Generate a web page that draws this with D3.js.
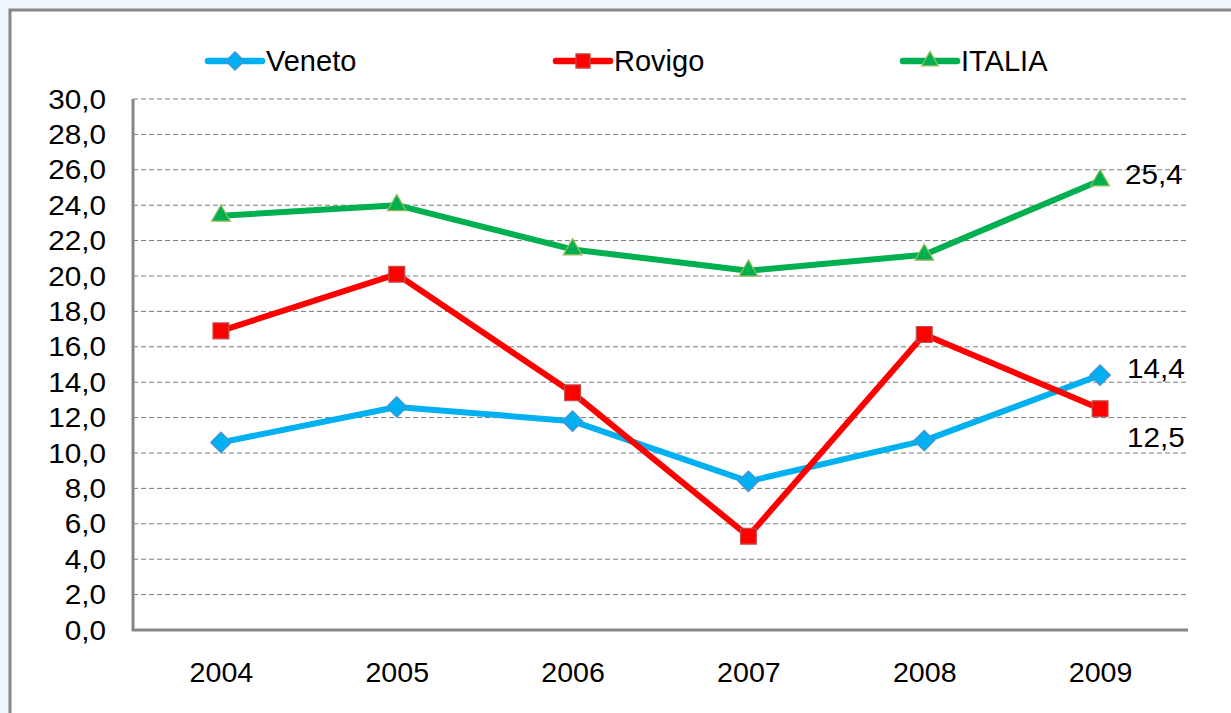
<!DOCTYPE html>
<html lang="it">
<head>
<meta charset="utf-8">
<title>Veneto Rovigo ITALIA</title>
<script src="https://d3js.org/d3.v7.min.js"></script>
<style>
  body { margin: 0; background: #eef5fc; }
  text { font-family: "Liberation Sans", Arial, sans-serif; fill: #000; }
</style>
</head>
<body>
<svg width="1231" height="713"></svg>
<script>
// data
const years  = ["2004", "2005", "2006", "2007", "2008", "2009"];
const veneto = [10.6, 12.6, 11.8, 8.4, 10.7, 14.4];
const rovigo = [16.9, 20.1, 13.4, 5.3, 16.7, 12.5];
const italia = [23.4, 24.0, 21.5, 20.3, 21.2, 25.4];
const yTicks = d3.range(0, 31, 2);

const series = [
  {name: "Veneto", values: veneto, color: "#00b0f0", stroke: "#4f8fd0", shape: d3.symbolDiamond2, size: 270, legendX: 208},
  {name: "Rovigo", values: rovigo, color: "#ff0000", stroke: "#c0504d", shape: d3.symbolSquare2, size: 320, legendX: 556},
  {name: "ITALIA", values: italia, color: "#00b050", stroke: "#9bbb59", shape: d3.symbolTriangle2, size: 250, legendX: 903}
];

const svg = d3.select("svg");
const plotL = 133, plotR = 1188, plotT = 99, plotB = 630;

// outer frame
svg.append("rect").attr("x", 10).attr("y", 10).attr("width", 1240).attr("height", 720)
  .attr("fill", "#fff").attr("stroke", "#878787").attr("stroke-width", 3);

const x = d3.scalePoint().domain(years).range([plotL, plotR]).padding(0.5);
const y = d3.scaleLinear().domain([0, 30]).range([plotB, plotT]);
const fmt = v => d3.format(".1f")(v).replace(".", ",");

// gridlines
svg.append("g").selectAll("line").data(yTicks.filter(d => d > 0)).enter().append("line")
  .attr("x1", plotL).attr("x2", plotR)
  .attr("y1", d => y(d)).attr("y2", d => y(d))
  .attr("stroke", "#7a7a7a").attr("stroke-width", 1).attr("stroke-dasharray", "5,3");

// axes (text a bit stretched, like the original)
const yAxis = svg.append("g").attr("transform", "translate(" + plotL + ",0)")
  .call(d3.axisLeft(y).tickValues(yTicks).tickFormat(fmt).tickSize(0));
yAxis.select(".domain").remove();
yAxis.selectAll("text").style("font-size", "27px").attr("dy", "0.34em")
  .attr("x", -27 / 1.1).attr("transform", "scale(1.1,1)");

const xAxis = svg.append("g").attr("transform", "translate(0," + plotB + ")")
  .call(d3.axisBottom(x).tickSize(0).tickPadding(33));
xAxis.select(".domain").remove();
xAxis.selectAll("text").style("font-size", "27px").attr("transform", "scale(1.06,1)");

svg.append("line").attr("x1", plotL).attr("x2", plotL).attr("y1", plotT).attr("y2", plotB + 1)
  .attr("stroke", "#878787").attr("stroke-width", 3);
svg.append("line").attr("x1", plotL - 1).attr("x2", plotR).attr("y1", plotB).attr("y2", plotB)
  .attr("stroke", "#878787").attr("stroke-width", 3);

// lines and markers
const line = d3.line().x((d, i) => x(years[i])).y(d => y(d));
series.forEach(function(s) {
  svg.append("path").datum(s.values).attr("d", line)
    .attr("fill", "none").attr("stroke", s.color).attr("stroke-width", 6)
    .attr("stroke-linejoin", "round");
  svg.append("g").selectAll("path").data(s.values).enter().append("path")
    .attr("d", d3.symbol().type(s.shape).size(s.size))
    .attr("transform", (d, i) => "translate(" + x(years[i]) + "," + y(d) + ")")
    .attr("fill", s.color).attr("stroke", s.stroke).attr("stroke-width", 1.2);

  // legend
  svg.append("line").attr("x1", s.legendX).attr("x2", s.legendX + 54).attr("y1", 61).attr("y2", 61)
    .attr("stroke", s.color).attr("stroke-width", 6.5).attr("stroke-linecap", "round");
  svg.append("path").attr("d", d3.symbol().type(s.shape).size(s.size * 0.8))
    .attr("transform", "translate(" + (s.legendX + 27) + ",61)")
    .attr("fill", s.color).attr("stroke", s.stroke).attr("stroke-width", 1.2);
  svg.append("text").attr("x", s.legendX + 58).attr("y", 71)
    .style("font-size", "29px").text(s.name);
});

// end labels
const last = years.length - 1;
const endLabel = (v, dx, dy) => svg.append("text")
  .attr("transform", "translate(" + (x(years[last]) + dx) + "," + (y(v) + dy) + ") scale(1.06,1)")
  .style("font-size", "28px").text(fmt(v));
endLabel(italia[last], 25, 4);
endLabel(veneto[last], 27, 3);
endLabel(rovigo[last], 27, 38);
</script>
</body>
</html>
